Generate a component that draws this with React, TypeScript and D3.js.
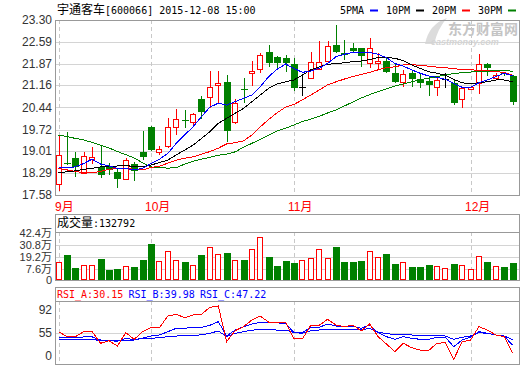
import React from 'react';
import * as d3 from 'd3';

const opens = [17.93,18.62,18.78,18.29,18.76,18.51,18.51,18.33,18.09,18.58,19.00,19.80,19.00,19.18,19.81,20.04,19.96,20.72,20.77,21.17,21.28,19.98,21.04,21.58,21.69,22.24,22.08,22.05,21.85,21.12,21.39,21.69,21.96,22.48,22.23,22.40,22.37,21.88,21.88,21.96,21.56,21.28,21.56,21.36,21.32,21.12,21.36,21.23,20.71,21.03,21.23,21.86,21.39,21.58,21.47];
const highs = [19.54,19.64,19.00,18.98,19.15,19.21,18.62,18.45,18.78,18.66,19.68,19.82,19.18,20.10,20.38,20.36,20.27,20.82,21.63,21.63,21.50,20.71,21.39,21.96,22.23,22.48,22.12,22.16,22.07,21.47,22.24,22.61,22.61,23.14,22.65,22.56,22.38,22.72,22.21,22.10,21.85,21.67,21.67,21.56,21.43,21.43,21.56,21.34,21.12,21.14,22.19,21.90,21.58,21.61,21.50];
const lows = [17.72,18.55,18.18,18.27,18.59,18.15,18.23,17.80,18.07,18.04,18.72,19.02,18.89,19.13,19.54,19.76,19.81,20.05,20.43,20.58,19.31,19.89,20.60,21.15,21.56,21.75,21.72,21.61,20.98,20.82,21.38,21.67,21.94,22.21,21.99,22.24,21.77,21.74,21.70,21.58,21.23,21.12,21.12,21.07,20.82,20.82,21.07,20.52,20.43,21.01,20.88,21.47,21.37,21.47,20.52];
const closes = [18.89,18.60,18.51,18.86,18.82,18.22,18.40,18.09,18.72,18.37,18.81,19.05,19.07,19.79,20.05,20.02,20.22,20.30,21.10,21.24,19.68,20.58,21.03,21.63,22.16,21.88,21.90,21.91,21.09,21.12,21.94,21.92,22.45,22.24,22.16,22.30,22.12,22.37,21.96,21.61,21.28,21.53,21.36,21.25,21.18,21.34,21.36,20.60,21.07,21.12,21.86,21.72,21.50,21.52,20.63];
// volume in 万
const volumes = [14.08,21.13,8.28,11.18,11.18,17.27,6.63,7.6,10.21,9.24,16.3,31.77,15.04,24.71,16.01,14.37,11.18,21.13,28.58,22.1,23.07,16.01,16.3,26.64,38.24,19.2,10.5,15.33,13.4,16.01,17.94,26.64,17.94,28.87,14.37,14.37,15.33,24.71,18.91,22.1,12.43,14.08,9.53,9.53,11.47,10.21,8.28,12.43,11.18,7.31,19.88,14.37,10.21,9.53,13.28];
const ma5 = [18.47,18.47,18.50,18.61,18.75,18.59,18.53,18.45,18.45,18.40,18.45,18.61,18.75,18.94,19.27,19.54,19.81,20.14,20.45,20.58,20.52,20.63,20.74,20.85,21.12,21.45,21.69,21.86,21.72,21.59,21.63,21.72,21.88,22.10,22.18,22.24,22.24,22.24,22.18,22.07,21.88,21.79,21.67,21.56,21.47,21.43,21.36,21.23,21.10,21.10,21.25,21.34,21.45,21.56,21.47];
const ma10 = [18.31,18.34,18.37,18.42,18.45,18.50,18.50,18.53,18.55,18.50,18.50,18.56,18.64,18.72,18.89,19.05,19.21,19.43,19.65,19.92,20.09,20.25,20.41,20.63,20.85,21.07,21.21,21.28,21.34,21.50,21.67,21.77,21.85,21.88,21.90,21.94,21.96,22.01,22.07,22.07,22.05,21.97,21.83,21.72,21.61,21.56,21.50,21.36,21.25,21.21,21.25,21.28,21.34,21.34,21.28];
const ma20 = [18.45,18.40,18.35,18.31,18.31,18.35,18.42,18.45,18.45,18.42,18.40,18.48,18.52,18.62,18.72,18.78,18.83,18.91,19.00,19.11,19.25,19.29,19.35,19.54,19.81,20.05,20.27,20.45,20.54,20.69,20.85,21.01,21.18,21.28,21.37,21.45,21.52,21.59,21.67,21.74,21.77,21.83,21.84,21.82,21.79,21.76,21.74,21.71,21.68,21.67,21.66,21.64,21.62,21.58,21.50];
const ma30 = [19.54,19.49,19.43,19.38,19.30,19.21,19.12,19.00,18.90,18.79,18.63,18.50,18.47,18.46,18.47,18.59,18.68,18.75,18.81,18.88,18.92,18.99,19.14,19.27,19.40,19.54,19.67,19.76,19.87,19.98,20.06,20.15,20.26,20.36,20.49,20.62,20.75,20.86,20.96,21.05,21.14,21.21,21.28,21.35,21.40,21.45,21.50,21.55,21.58,21.60,21.62,21.63,21.64,21.64,21.63];
const rsiA = [57,50.8,50.8,57,57,42.5,45.8,39.1,55.8,47.5,57,62,62,76.6,78.8,74.5,77.9,78.8,87.5,89.1,44.5,58.3,63.3,71.6,76.6,68.8,68.8,68.8,47.9,47.9,65,65,72.5,65.4,63.3,65.4,57.9,66.6,50.8,41.6,32,42.5,37,34.1,33.3,42.5,43.3,22.5,44.5,46.6,63.3,59.1,52.9,50.8,30.15];
const rsiB = [50,50,49.5,50.5,50.5,46.6,46,45,48.7,47,49,51.6,52.9,57,61.2,61.5,62,62.5,65,69.5,51.6,59.1,63.3,66.6,68.8,68.5,68,67.5,55.8,55.8,62.5,62.5,66.6,64.1,63.3,64.1,61.2,65.4,55.8,50.8,47.5,50.8,48.7,47.5,47.5,50,50,38.3,46.6,50,57,55,52.9,51.6,39.98];
const rsiC = [47.5,47.5,47.5,47.5,47.5,45.8,45.8,45.5,46.6,46.6,48.7,48.7,49.5,50.8,51.6,52,52.5,53,55,57.9,50.8,55,57,59,59.5,59.3,59.1,59.1,55.8,55,58.3,59.1,60,60,60,60,59.1,61.2,55.8,55,52.9,54.1,52.9,52,52,52.9,51.6,47.5,50,51.6,55.8,55,52.9,51.6,47.22];

const priceTicks = [23.30, 22.59, 21.87, 21.16, 20.44, 19.72, 19.01, 18.29, 17.58];
const volTicks = [42.4, 30.8, 19.2, 7.6, 0];
const rsiTickLabels = ['92', '55', '0'];
const monthLabels = ['9月', '10月', '11月', '12月'];
const monthStarts = [0, 11, 28, 49];
const legendNames = ['5PMA', '10PM', '20PM', '30PM'];
const rsiNames = ['RSI_A', 'RSI_B', 'RSI_C'];

const UP = '#ff0000';
const DOWN = '#008000';
const GRID = '#d4d4d4';
const BORDER = '#999999';
const CJK = "'Noto Sans CJK SC', sans-serif";
const MONO = "'DejaVu Sans Mono', monospace";
const SANS = "'Liberation Sans', Arial, 'Noto Sans CJK SC', sans-serif";

export default function App() {
  const W = 520, H = 365;
  const L = 55, R = 519;
  const mainTop = 20, mainBot = 195;
  const volTop = 214, volPlotTop = 232, volBot = 280;
  const rsiTop = 287, rsiPlotTop = 301, rsiBot = 364;

  const n = closes.length;
  const x = d3.scaleLinear().domain([0, n - 1]).range([58.5, 512.6]);
  const y = d3.scaleLinear().domain([17.58, 23.30]).range([mainBot, mainTop]);
  const vy = d3.scaleLinear().domain([7.6, 30.8]).range([269, 245]);
  const ry = d3.scaleLinear().domain([0, 100]).range([377.3, 297.3]);
  const rLabelY = d3.scalePoint<string>().domain(rsiTickLabels).range([310, 356]);

  const cxs = closes.map((_, i) => Math.round(x(i)));
  const maLine = d3.line<number>().x((_, i) => x(i)).y((d) => y(d));
  const rsiLine = d3.line<number>().x((_, i) => x(i)).y((d) => ry(d));

  const colorOf = (i: number) =>
    closes[i] > opens[i] ? UP : closes[i] < opens[i] ? DOWN : '#000000';

  const dashed = (top: number, bot: number, key: string) =>
    monthStarts.map((mi) => (
      <line key={key + mi} x1={cxs[mi] + 0.5} x2={cxs[mi] + 0.5} y1={top} y2={bot}
        stroke="#c8c8c8" strokeDasharray="4,3" />
    ));

  return (
    <svg width={W} height={H} style={{ position: 'absolute', left: 0, top: 0, background: '#fff' }}>
      <defs>
        <clipPath id="mainClip"><rect x={L} y={mainTop} width={R - L} height={mainBot - mainTop} /></clipPath>
        <clipPath id="rsiClip"><rect x={L} y={rsiPlotTop} width={R - L} height={rsiBot - rsiPlotTop} /></clipPath>
      </defs>
      <rect x={0} y={0} width={W} height={H} fill="#fff" />

      {/* watermark */}
      <g>
        <path d="M425,44 Q429,24 447,18 Q438,28 434,44 Z" fill="#dcdcdc" />
        <text x={448} y={34} fontFamily={CJK} fontSize={14} fontWeight="bold" fill="#c4c4c4">东方财富网</text>
        <text x={431} y={45} fontFamily={SANS} fontSize={9} fontWeight="bold" fontStyle="italic" fill="#d4d4d4">eastmoney.com</text>
      </g>

      {/* title */}
      <text x={57} y={14} fill="#000">
        <tspan fontFamily={CJK} fontSize={12}>宇通客车</tspan>
        <tspan fontFamily={MONO} fontSize={10}>[600066] 2015-12-08 15:00</tspan>
      </text>

      {/* legend */}
      {legendNames.map((nm, k) => {
        const lx = 340 + k * 46;
        const col = ['#0000ff', '#000000', '#ff0000', '#008000'][k];
        return (
          <g key={nm}>
            <text x={lx} y={14} fontFamily={MONO} fontSize={10} fill="#000">{nm}</text>
            <line x1={lx + 30} x2={lx + 38} y1={10.5} y2={10.5} stroke={col} strokeWidth={2} />
          </g>
        );
      })}

      {/* main panel grid */}
      {priceTicks.slice(1, -1).map((t) => (
        <line key={'g' + t} x1={L} x2={R} y1={Math.round(y(t)) + 0.5} y2={Math.round(y(t)) + 0.5} stroke={GRID} />
      ))}
      {dashed(mainTop, mainBot, 'dm')}
      {priceTicks.map((t) => (
        <text key={'pt' + t} x={52} y={y(t)} textAnchor="end" dominantBaseline="central"
          fontFamily={SANS} fontSize={12} fill="#333">{t.toFixed(2)}</text>
      ))}

      {/* candles */}
      <g clipPath="url(#mainClip)">
        {closes.map((c, i) => {
          const cx = cxs[i];
          const col = colorOf(i);
          const top = Math.round(y(Math.max(opens[i], c)));
          const bot = Math.round(y(Math.min(opens[i], c)));
          const h = Math.max(bot - top, 1);
          return (
            <g key={'c' + i} shapeRendering="crispEdges">
              <line x1={cx + 0.5} x2={cx + 0.5} y1={Math.round(y(highs[i]))} y2={Math.round(y(lows[i]))} stroke={col} />
              {col === UP ? (
                <rect x={cx - 2.5} y={top + 0.5} width={5} height={h} fill="#fff" stroke={UP} />
              ) : col === DOWN ? (
                <rect x={cx - 3} y={top} width={7} height={h} fill={DOWN} />
              ) : (
                <line x1={cx - 3} x2={cx + 4} y1={top + 0.5} y2={top + 0.5} stroke="#000" />
              )}
            </g>
          );
        })}
        <path d={maLine(ma30) || ''} fill="none" stroke="#008000" shapeRendering="crispEdges" />
        <path d={maLine(ma20) || ''} fill="none" stroke="#ff0000" shapeRendering="crispEdges" />
        <path d={maLine(ma10) || ''} fill="none" stroke="#000000" shapeRendering="crispEdges" />
        <path d={maLine(ma5) || ''} fill="none" stroke="#0000ff" shapeRendering="crispEdges" />
      </g>
      <rect x={L + 0.5} y={mainTop + 0.5} width={R - L} height={mainBot - mainTop} fill="none" stroke={BORDER} />

      {/* month labels */}
      {monthLabels.map((m, k) => (
        <text key={m} x={Math.max(L, cxs[monthStarts[k]] - 6)} y={211} fontFamily={SANS} fontSize={12} fill="#ff0000">{m}</text>
      ))}

      {/* volume panel */}
      {volTicks.slice(1, -1).map((t) => (
        <line key={'vg' + t} x1={L} x2={R} y1={Math.round(vy(t)) + 0.5} y2={Math.round(vy(t)) + 0.5} stroke={GRID} />
      ))}
      {dashed(volPlotTop, volBot, 'dv')}
      <line x1={L} x2={R} y1={volPlotTop + 0.5} y2={volPlotTop + 0.5} stroke={BORDER} />
      <rect x={L + 0.5} y={volTop + 0.5} width={R - L} height={volBot - volTop} fill="none" stroke={BORDER} />
      <text x={57} y={227} fill="#000">
        <tspan fontFamily={CJK} fontSize={12}>成交量</tspan>
        <tspan fontFamily={MONO} fontSize={10}>:132792</tspan>
      </text>
      {volTicks.map((t) => (
        <text key={'vt' + t} x={52} y={t === 0 ? volBot : vy(t)} textAnchor="end" dominantBaseline="central"
          fontFamily={SANS} fontSize={11} fill="#333">{t === 0 ? '0' : t + '万'}</text>
      ))}
      {volumes.map((v, i) => {
        const cx = cxs[i];
        const up = colorOf(i) !== DOWN;
        const top = Math.round(vy(v));
        return up ? (
          <rect key={'v' + i} x={cx - 2.5} y={top + 0.5} width={5} height={volBot - top - 1} fill="#fff" stroke={UP} shapeRendering="crispEdges" />
        ) : (
          <rect key={'v' + i} x={cx - 3} y={top} width={7} height={volBot - top} fill={DOWN} shapeRendering="crispEdges" />
        );
      })}

      {/* RSI panel */}
      <line x1={L} x2={R} y1={Math.round(ry(55)) + 0.5} y2={Math.round(ry(55)) + 0.5} stroke={GRID} />
      {dashed(rsiPlotTop, rsiBot, 'dr')}
      <line x1={L} x2={R} y1={rsiPlotTop + 0.5} y2={rsiPlotTop + 0.5} stroke={BORDER} />
      <rect x={L + 0.5} y={rsiTop + 0.5} width={R - L} height={rsiBot - rsiTop} fill="none" stroke={BORDER} />
      {rsiNames.map((nm, k) => {
        const val = [rsiA, rsiB, rsiC][k][n - 1];
        return (
          <text key={nm} x={57 + k * 71.5} y={298} fontFamily={MONO} fontSize={10}
            fill={k === 0 ? '#ff0000' : '#0000ff'}>{nm + ':' + val.toFixed(2)}</text>
        );
      })}
      {rsiTickLabels.map((t) => (
        <text key={'rt' + t} x={52} y={rLabelY(t)} textAnchor="end" dominantBaseline="central"
          fontFamily={SANS} fontSize={12} fill="#333">{t}</text>
      ))}
      <g clipPath="url(#rsiClip)">
        <path d={rsiLine(rsiC) || ''} fill="none" stroke="#0000ff" shapeRendering="crispEdges" />
        <path d={rsiLine(rsiB) || ''} fill="none" stroke="#0000ff" shapeRendering="crispEdges" />
        <path d={rsiLine(rsiA) || ''} fill="none" stroke="#ff0000" shapeRendering="crispEdges" />
      </g>
    </svg>
  );
}
